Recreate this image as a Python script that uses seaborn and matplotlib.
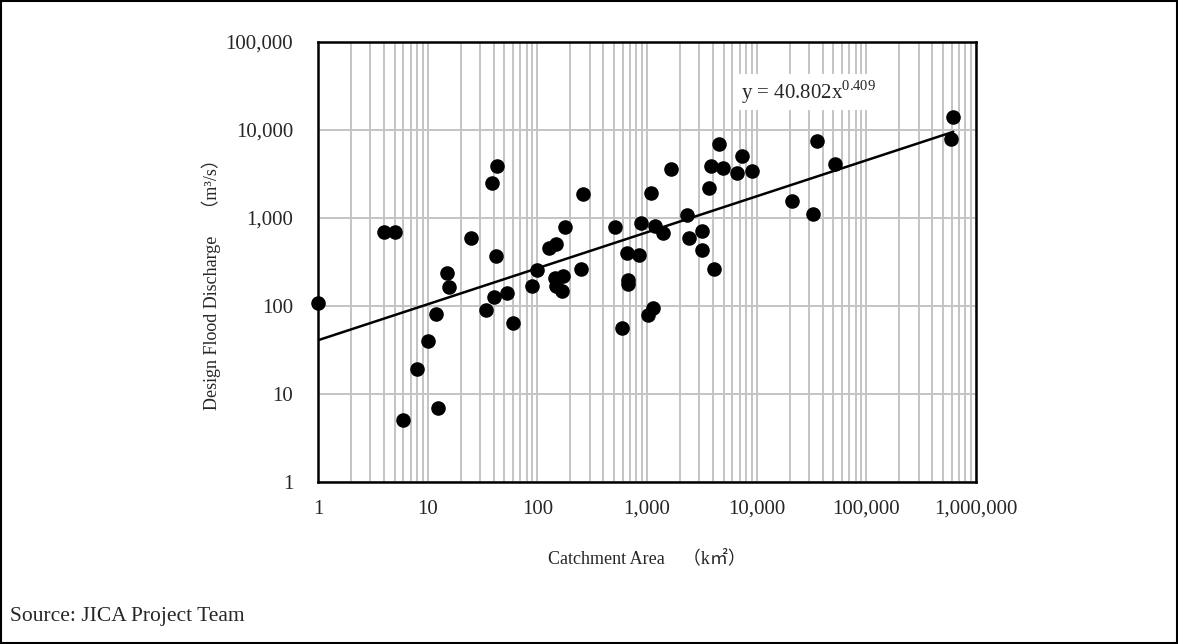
import matplotlib
matplotlib.use("Agg")
import matplotlib.pyplot as plt
import matplotlib.ticker as mticker
from matplotlib.patches import Rectangle
import numpy as np
import pandas as pd
import seaborn as sns

# catchment area (km2) and design flood discharge (m3/s)
area = [1, 4, 5, 6, 8, 10, 12, 12.4, 15, 15.6, 25, 34, 38.6, 40, 42, 43,
        53, 60, 89, 99, 128, 145, 148, 148, 168, 171, 178, 250, 261, 510,
        590, 656, 670, 670, 844, 880, 1019, 1087, 1132, 1180, 1397, 1652,
        2310, 2410, 3160, 3160, 3665, 3820, 4075, 4520, 4920, 6600, 7330,
        9040, 20900, 32500, 35400, 51600, 589000, 615000]
discharge = [108, 690, 690, 5, 19, 40, 81, 7, 237, 164, 590, 90, 2500, 126,
             370, 3900, 141, 64, 169, 257, 456, 208, 507, 169, 148, 219, 790,
             264, 1875, 790, 56, 400, 197, 178, 380, 877, 79, 1925, 95, 811,
             676, 3600, 1082, 593, 711, 433, 2190, 3900, 264, 6930, 3700,
             3250, 5070, 3420, 1560, 1110, 7500, 4110, 7900, 14000]

# power-law fit shown on the chart
fit_a = 40.802
fit_b = 0.409
fit_x = [1, 620000]

df = pd.DataFrame({"area": area, "discharge": discharge})
fit = pd.DataFrame({"x": fit_x, "y": [fit_a * v ** fit_b for v in fit_x]})

sns.set_style("white")
plt.rcParams["font.family"] = ["Liberation Serif", "Noto Sans CJK JP"]
plt.rcParams["mathtext.fontset"] = "custom"
plt.rcParams["mathtext.rm"] = "Liberation Serif"

fig = plt.figure(figsize=(11.78, 6.44), dpi=100)
ax = fig.add_axes([0.270, 0.2516, 0.5586, 0.6832])

sns.lineplot(data=fit, x="x", y="y", color="black", linewidth=1.8, ax=ax, zorder=3)
sns.scatterplot(data=df, x="area", y="discharge", color="black", s=110,
                edgecolor="black", linewidth=0, ax=ax, zorder=4, clip_on=False)

ax.set_xscale("log")
ax.set_yscale("log")
ax.set_xlim(1, 1e6)
ax.set_ylim(1, 1e5)

fmt = mticker.FuncFormatter(lambda v, p: f"{v:,.0f}")
ax.xaxis.set_major_formatter(fmt)
ax.yaxis.set_major_formatter(fmt)
ax.xaxis.set_major_locator(mticker.LogLocator(base=10, numticks=10))
ax.yaxis.set_major_locator(mticker.LogLocator(base=10, numticks=10))
ax.xaxis.set_minor_locator(mticker.LogLocator(base=10, subs=np.arange(2, 10), numticks=20))
ax.yaxis.set_minor_locator(mticker.LogLocator(base=10, subs=np.arange(2, 10), numticks=20))
ax.xaxis.set_minor_formatter(mticker.NullFormatter())
ax.yaxis.set_minor_formatter(mticker.NullFormatter())

ax.grid(True, which="both", axis="x", color="#c4c4c4", linewidth=1.4)
ax.grid(True, which="major", axis="y", color="#c4c4c4", linewidth=1.4)
ax.set_axisbelow(True)

ax.tick_params(axis="both", which="major", direction="in", length=5,
               labelsize=15, color="black")
ax.tick_params(axis="both", which="minor", direction="in", length=3, color="black")
ax.tick_params(axis="x", which="major", pad=13)
ax.tick_params(axis="y", which="major", pad=18)
for sp in ax.spines.values():
    sp.set_visible(True)
    sp.set_color("black")
    sp.set_linewidth(1.8)

ax.set_xlabel("Catchment Area　（k㎡）", fontsize=13, labelpad=22)
ax.set_ylabel("Design Flood Discharge　（m³/s）", fontsize=13)
ax.yaxis.set_label_coords(-0.148, 0.46)

ax.text(0.746, 0.886, "y = 40.802x$^{0.409}$", transform=ax.transAxes,
        fontsize=15, ha="center", va="center",
        bbox=dict(facecolor="white", edgecolor="none", pad=3), zorder=5)

fig.text(0.0085, 0.042, "Source: JICA Project Team", fontsize=15.5,
         ha="left", va="center")

fig.patches.append(Rectangle((0.001, 0.001), 0.998, 0.997, transform=fig.transFigure,
                             fill=False, edgecolor="black", linewidth=1.5))

fig.savefig("out.png", dpi=100)
